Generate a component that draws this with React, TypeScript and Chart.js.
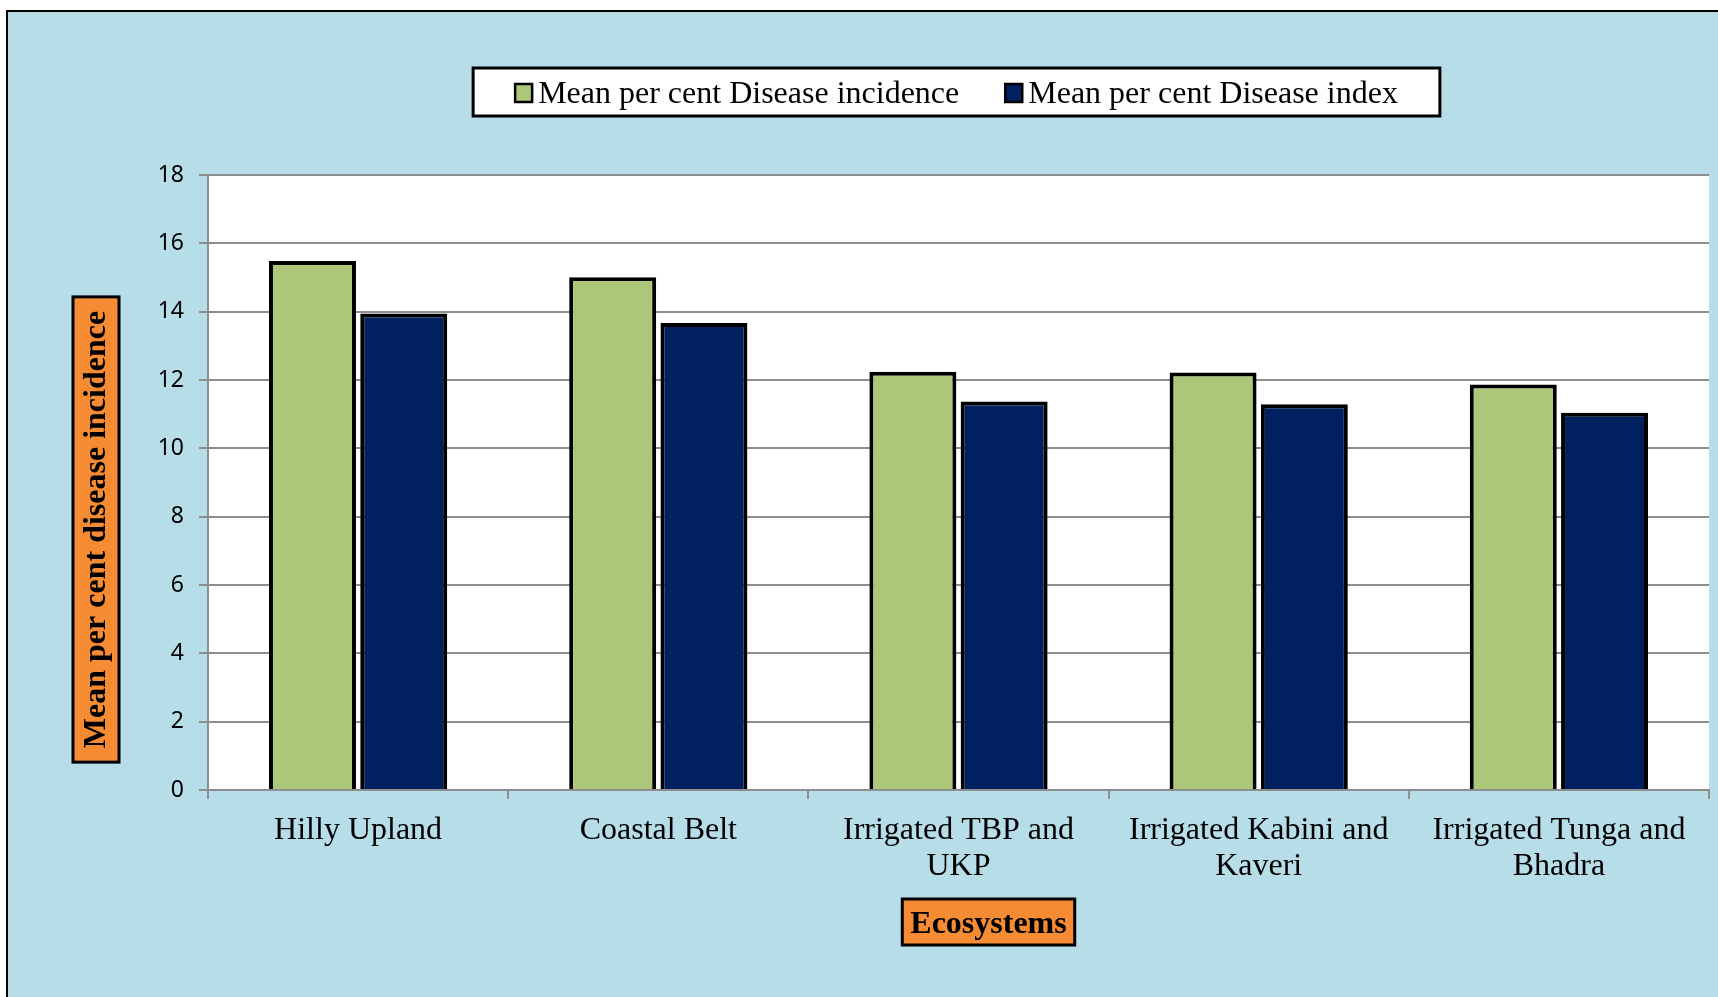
import React, { useEffect, useRef } from "react";
import { Chart, registerables } from "chart.js";

Chart.register(...registerables);

const categories: (string | string[])[] = [
  "Hilly Upland",
  "Coastal Belt",
  ["Irrigated TBP and", "UKP"],
  ["Irrigated Kabini and", "Kaveri"],
  ["Irrigated Tunga and", "Bhadra"],
];
const incidenceLabel = "Mean per cent Disease incidence";
const indexLabel = "Mean per cent Disease index";
const incidenceValues = [15.48, 15.01, 12.24, 12.22, 11.87];
const indexValues = [13.95, 13.67, 11.37, 11.29, 11.04];
const yTitle = "Mean per cent disease incidence";
const xTitle = "Ecosystems";

const GREEN = "#adc77a";
const NAVY = "#002060";
const ORANGE = "#f58b32";
const BG = "#b7dde8";
const GRID = "#8e8e8e";
const SERIF = '"Liberation Serif", "Times New Roman", serif';

const W = 1710;
const H = 985;

const decorPlugin = {
  id: "decor",
  beforeDraw(chart: any) {
    const { ctx, chartArea: a } = chart;
    ctx.save();
    ctx.fillStyle = "#ffffff";
    ctx.fillRect(a.left, a.top, a.right - a.left, a.bottom - a.top);
    ctx.restore();
  },
  afterDraw(chart: any) {
    const { ctx, chartArea: a } = chart;
    const cx = (a.left + a.right) / 2;
    ctx.save();

    // Legend
    ctx.font = `32px ${SERIF}`;
    ctx.textBaseline = "middle";
    ctx.textAlign = "left";
    const ds = chart.data.datasets;
    const boxW = 17;
    const boxH = 18;
    const gap = 6;
    const itemGap = 46;
    const widths = ds.map((d: any) => boxW + gap + ctx.measureText(d.label).width);
    const total = widths.reduce((s: number, w: number) => s + w, 0) + itemGap * (ds.length - 1);
    const ly = 81;
    const padX = 42;
    let x = cx - 2 - total / 2;
    ctx.fillStyle = "#ffffff";
    ctx.strokeStyle = "#000000";
    ctx.lineWidth = 3;
    ctx.fillRect(x - padX, ly - 25, total + 2 * padX, 48);
    ctx.strokeRect(x - padX, ly - 25, total + 2 * padX, 48);
    ds.forEach((d: any, i: number) => {
      ctx.fillStyle = d.backgroundColor;
      ctx.fillRect(x, ly - boxH / 2, boxW, boxH);
      ctx.lineWidth = 2.5;
      ctx.strokeStyle = "#000";
      ctx.strokeRect(x, ly - boxH / 2, boxW, boxH);
      ctx.fillStyle = "#000";
      ctx.fillText(d.label, x + boxW + gap, ly + 2);
      x += widths[i] + itemGap;
    });

    // Y title box
    ctx.font = `bold 32px ${SERIF}`;
    const yw = ctx.measureText(yTitle).width;
    const ybh = yw + 28;
    const ybw = 46;
    const ycx = 88;
    const ycy = (a.top + a.bottom) / 2 + 47;
    ctx.fillStyle = ORANGE;
    ctx.fillRect(ycx - ybw / 2, ycy - ybh / 2, ybw, ybh);
    ctx.strokeStyle = "#000";
    ctx.lineWidth = 3;
    ctx.strokeRect(ycx - ybw / 2, ycy - ybh / 2, ybw, ybh);
    ctx.save();
    ctx.translate(ycx + 1, ycy);
    ctx.rotate(-Math.PI / 2);
    ctx.fillStyle = "#000";
    ctx.textAlign = "center";
    ctx.textBaseline = "middle";
    ctx.fillText(yTitle, 0, 0);
    ctx.restore();

    // X title box
    const xw = ctx.measureText(xTitle).width;
    const xbw = xw + 16;
    const xbh = 46;
    const xcx = cx + 30;
    const xcy = 910;
    ctx.fillStyle = ORANGE;
    ctx.fillRect(xcx - xbw / 2, xcy - xbh / 2, xbw, xbh);
    ctx.strokeStyle = "#000";
    ctx.lineWidth = 3;
    ctx.strokeRect(xcx - xbw / 2, xcy - xbh / 2, xbw, xbh);
    ctx.fillStyle = "#000";
    ctx.textAlign = "center";
    ctx.textBaseline = "middle";
    ctx.fillText(xTitle, xcx, xcy + 3);

    ctx.restore();
  },
};

export default function App() {
  const ref = useRef<HTMLCanvasElement | null>(null);

  useEffect(() => {
    if (!ref.current) return;
    const chart = new Chart(ref.current, {
      type: "bar",
      data: {
        labels: categories,
        datasets: [
          {
            label: incidenceLabel,
            data: incidenceValues,
            backgroundColor: GREEN,
            borderColor: "#000000",
            borderWidth: 4,
            categoryPercentage: 0.608,
            barPercentage: 0.953,
          },
          {
            label: indexLabel,
            data: indexValues,
            backgroundColor: NAVY,
            borderColor: "#000000",
            borderWidth: 4,
            categoryPercentage: 0.608,
            barPercentage: 0.953,
          },
        ],
      },
      options: {
        responsive: false,
        animation: false,
        devicePixelRatio: 1,
        layout: { padding: { top: 163, right: 9, left: 0, bottom: 0 } },
        plugins: {
          legend: { display: false },
          title: { display: false },
          tooltip: { enabled: false },
        },
        scales: {
          x: {
            type: "category",
            grid: {
              offset: true,
              drawOnChartArea: false,
              color: GRID,
              lineWidth: 2,
              tickLength: 9,
            },
            border: { color: GRID, width: 2 },
            ticks: {
              color: "#000",
              font: { family: SERIF, size: 32, lineHeight: 1.14 },
              padding: 13,
              maxRotation: 0,
              minRotation: 0,
              autoSkip: false,
            },
            afterFit: (s: any) => {
              s.height = H - 778;
            },
          },
          y: {
            min: 0,
            max: 18,
            ticks: {
              stepSize: 2,
              color: "#000",
              font: { family: '"Noto Sans", sans-serif', size: 23 },
              padding: 15,
            },
            grid: { color: GRID, lineWidth: 2, tickLength: 9 },
            border: { color: GRID, width: 2 },
            afterFit: (s: any) => {
              s.width = 200;
            },
          },
        },
      },
      plugins: [decorPlugin],
    } as any);
    return () => chart.destroy();
  }, []);

  return (
    <div
      style={{
        position: "absolute",
        left: 6,
        top: 10,
        width: 1712,
        height: 987,
        boxSizing: "border-box",
        background: BG,
        borderLeft: "2px solid #000",
        borderTop: "2px solid #000",
        overflow: "hidden",
      }}
    >
      <canvas ref={ref} width={W} height={H} style={{ display: "block", width: W, height: H }} />
    </div>
  );
}
